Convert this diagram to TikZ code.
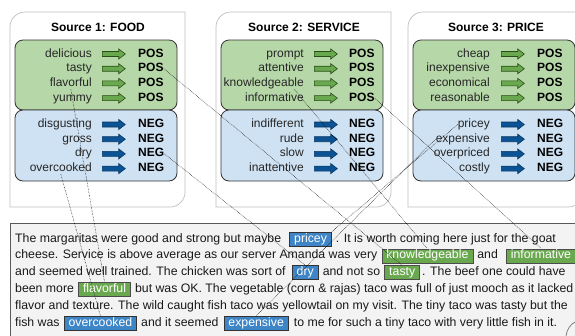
\documentclass[tikz,border=0pt]{standalone}
\usepackage{fontspec}
\setmainfont{Liberation Sans}
\usetikzlibrary{positioning, shapes.arrows}

\definecolor{posfill}{HTML}{B6D7A8}
\definecolor{negfill}{HTML}{CFE2F3}
\definecolor{posarr}{HTML}{6AA84F}
\definecolor{posarrdark}{HTML}{274E13}
\definecolor{negarr}{HTML}{0B5394}
\definecolor{negarrdark}{HTML}{073763}
\definecolor{hlpos}{HTML}{6AA84F}
\definecolor{hlneg}{HTML}{3D85C6}
\definecolor{paper}{HTML}{F3F3F3}

\tikzset{
  srcframe/.style={draw=black!25, line width=0.7bp, fill=white},
  posbox/.style={draw=black!80, line width=0.8bp, fill=posfill, rounded corners=8bp},
  negbox/.style={draw=black!80, line width=0.8bp, fill=negfill, rounded corners=8bp},
  srcword/.style={font=\fontsize{12bp}{14bp}\selectfont, text=black!85, inner sep=0,
    text height=8.5bp, text depth=2.5bp},
  tag/.style={srcword, font=\fontsize{12bp}{14bp}\selectfont\bfseries, text=black},
  posarrow/.style={single arrow, single arrow tip angle=75, single arrow head extend=2.5bp,
    minimum height=23bp, inner xsep=0, inner ysep=2.2bp, fill=posarr, draw=posarrdark, line width=0.6bp},
  negarrow/.style={posarrow, fill=negarr, draw=negarrdark},
  txt/.style={font=\fontsize{12.3bp}{14bp}\selectfont, text=black!90, inner sep=0, anchor=base west},
  hlpos/.style={txt, fill=hlpos, draw=black!70, line width=0.6bp, text=white,
    inner xsep=4.5bp, inner ysep=1.5bp, text height=8.5bp, text depth=2.5bp},
  hlneg/.style={hlpos, fill=hlneg, draw=black!80},
  link/.style={densely dotted, line width=0.5bp, black},
}

% one column of words -> arrow -> POS/NEG
\newcommand{\wordrows}[5]{%
  \foreach \w [count=\i] in {#5} {
    \pgfmathsetmacro{\yy}{\i<5 ? 54+(\i-1)*14.7 : 124.5+(\i-5)*14.7}
    \ifnum\i<5 \def\kind{pos}\def\lab{POS}\else\def\kind{neg}\def\lab{NEG}\fi
    \node[srcword, anchor=east] (w#1-\i) at (#2,\yy) {\w};
    \node[\kind arrow, anchor=west] (a#1-\i) at (#3,\yy) {};
    \node[tag, anchor=west] (l#1-\i) at (#4,\yy) {\lab};
  }}

\begin{document}
\begin{tikzpicture}[x=1bp, y=-1bp]
  \clip (0,0) rectangle (575,335);
  \fill[white] (0,0) rectangle (575,335);

  % source frames
  \foreach \xi/\ttl [count=\s] in {15/FOOD, 221/SERVICE, 413/PRICE} {
    \draw[srcframe] (\xi-5,207) -- (\xi-5,27) .. controls (\xi-5,18.7) and (\xi+1.7,12) .. (\xi+10,12)
      -- (\xi+170,12) -- (\xi+170,192) .. controls (\xi+170,200.3) and (\xi+163.3,207) .. (\xi+155,207) -- cycle;
    \node[tag] (title\s) at (\xi+83,28) {Source \s: \ttl};
    \draw[posbox] (\xi,40) rectangle (\xi+162,110);
    \draw[negbox] (\xi,110) rectangle (\xi+162,181);
  }

  \wordrows{1}{92}{102}{138}{delicious,tasty,flavorful,yummy,disgusting,gross,dry,overcooked}
  \wordrows{2}{304}{314}{349}{prompt,attentive,knowledgeable,informative,indifferent,rude,slow,inattentive}
  \wordrows{3}{490}{501}{537}{cheap,inexpensive,economical,reasonable,pricey,expensive,overpriced,costly}

  % review text
  \draw[draw=black!65, line width=0.8bp, fill=paper] (10,223) rectangle (600,360);

  \node[txt] (t1a) at (15,242) {The margaritas were good and strong but maybe};
  \node[hlneg, base right=8bp of t1a] (hpricey) {pricey};
  \node[txt, base right=4bp of hpricey] (t1b) {. It is worth coming here just for the goat};

  \node[txt] (t2a) at (15,258.8) {cheese. Service is above average as our server Amanda was very};
  \node[hlpos, base right=4bp of t2a] (hknowledgeable) {knowledgeable};
  \node[txt, base right=4bp of hknowledgeable] (t2b) {and};
  \node[hlpos, base right=8bp of t2b] (hinformative) {informative};

  \node[txt] (t3a) at (15,275.6) {and seemed well trained. The chicken was sort of};
  \node[hlneg, base right=6bp of t3a] (hdry) {dry};
  \node[txt, base right=4bp of hdry] (t3b) {and not so};
  \node[hlpos, base right=4bp of t3b] (htasty) {tasty};
  \node[txt, base right=2bp of htasty] (t3c) {. The beef one could have};

  \node[txt] (t4a) at (15,292.4) {been more};
  \node[hlpos, base right=4bp of t4a] (hflavorful) {flavorful};
  \node[txt, base right=4bp of hflavorful] (t4b) {but was OK. The vegetable (corn \& rajas) taco was full of just mooch as it lacked};

  \node[txt] (t5a) at (15,309.2) {flavor and texture. The wild caught fish taco was yellowtail on my visit. The tiny taco was tasty but the};

  \node[txt] (t6a) at (15,326) {fish was};
  \node[hlneg, base right=4bp of t6a] (hovercooked) {overcooked};
  \node[txt, base right=4bp of hovercooked] (t6b) {and it seemed};
  \node[hlneg, base right=5bp of t6b] (hexpensive) {expensive};
  \node[txt, base right=5bp of hexpensive] (t6c) {to me for such a tiny taco with very little fish in it.};

  % page curl
  \draw[black!55, line width=0.7bp] (566,336) .. controls (567,329) and (570,325) .. (575,322);

  % links between lexicon entries and the review
  \draw[link] (l1-2.east) -- (htasty.north);
  \draw[link] (l1-7.east) -- (hdry.north);
  \draw[link] (w1-3.south) -- (hflavorful.north);
  \draw[link] (w1-8.south) -- (hovercooked.north);
  \draw[link] ([xshift=-10bp]w2-3.south east) -- (hknowledgeable.north);
  \draw[link] (l2-4.east) -- (hinformative.north);
  \draw[link] (w3-5.west) -- (hpricey.north east);
  \draw[link] (w3-6.west) -- (hexpensive.north);
\end{tikzpicture}
\end{document}
